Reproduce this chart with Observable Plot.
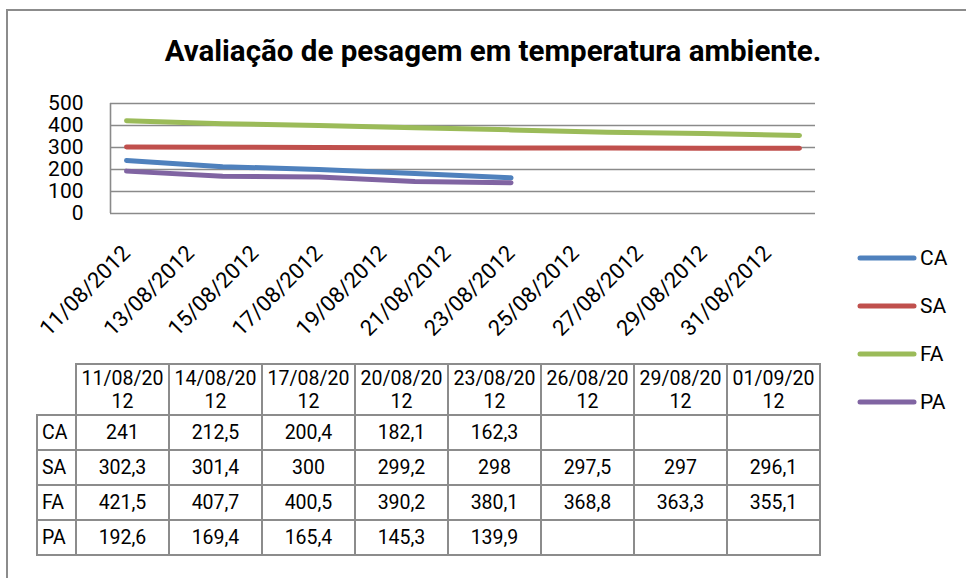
<!DOCTYPE html>
<html>
<head>
<meta charset="utf-8">
<script src="https://cdn.jsdelivr.net/npm/d3@7"></script>
<script src="https://cdn.jsdelivr.net/npm/@observablehq/plot@0.6"></script>
<style>
  html, body { margin: 0; padding: 0; background: #fff; overflow: hidden; width: 966px; height: 578px; }
  body { font-family: Roboto, "Open Sans", sans-serif; color: #000; position: relative; }
  #frame { position: absolute; left: 6px; top: 9px; width: 1100px; height: 700px; border-left: 2px solid #8c8c8c; border-top: 2px solid #8c8c8c; }
  #title { position: absolute; left: 0; width: 986px; top: 34px; text-align: center; font-weight: bold; font-size: 29.5px; line-height: 34px; }
  #chart { position: absolute; left: 0; top: 80px; }
  #legend { position: absolute; left: 856px; top: 234px; }
  .lg { display: flex; align-items: center; height: 48px; font-size: 21px; }
  .lg svg { margin-right: 2px; }
  #tbl { position: absolute; left: 36px; top: 363px; border-collapse: collapse; font-size: 19.5px; table-layout: fixed; }
  #tbl td { border: 2px solid #8c8c8c; text-align: center; padding: 0; height: 33px; line-height: 23px; width: 91px; }
  #tbl td.rh, #tbl td.blank { width: 33px; text-align: left; padding-left: 4px; }
  #tbl td.blank { border: none; }
  #tbl tr.hd td { height: 49px; }
</style>
</head>
<body>
<div id="frame"></div>
<div id="title">Avaliação de pesagem em temperatura ambiente.</div>
<div id="chart"></div>
<div id="legend"></div>
<table id="tbl"></table>
<script>
// ---- data ----
const dates = ["2012-08-11","2012-08-14","2012-08-17","2012-08-20","2012-08-23","2012-08-26","2012-08-29","2012-09-01"];
const seriesNames = ["CA","SA","FA","PA"];
const CA = [241, 212.5, 200.4, 182.1, 162.3, null, null, null];
const SA = [302.3, 301.4, 300, 299.2, 298, 297.5, 297, 296.1];
const FA = [421.5, 407.7, 400.5, 390.2, 380.1, 368.8, 363.3, 355.1];
const PA = [192.6, 169.4, 165.4, 145.3, 139.9, null, null, null];
const colors = ["#4F81BD","#C0504D","#9BBB59","#8064A2"];
const yTicks = [0, 100, 200, 300, 400, 500];
const xTicks = ["2012-08-11","2012-08-13","2012-08-15","2012-08-17","2012-08-19","2012-08-21","2012-08-23","2012-08-25","2012-08-27","2012-08-29","2012-08-31"];
const xDomain = ["2012-08-10T12:00:00Z","2012-09-01T12:00:00Z"];

const valuesBy = {CA, SA, FA, PA};
const parse = s => new Date(s.length === 10 ? s + "T00:00:00Z" : s);
const rows = [];
seriesNames.forEach(name => {
  valuesBy[name].forEach((v, i) => {
    if (v != null) rows.push({series: name, date: parse(dates[i]), value: v});
  });
});
const fmtDate = d3.utcFormat("%d/%m/%Y");

const chart = Plot.plot({
  width: 830,
  height: 290,
  marginLeft: 110,
  marginRight: 15,
  marginTop: 23,
  marginBottom: 157,
  style: {fontFamily: "Roboto, sans-serif", fontSize: "22px", color: "#000", background: "transparent"},
  x: {type: "utc", domain: xDomain.map(parse)},
  y: {domain: [0, 500]},
  color: {domain: seriesNames, range: colors},
  marks: [
    Plot.ruleY(yTicks, {stroke: "#8a8a8a", strokeWidth: 1.6}),
    Plot.ruleX([parse(xDomain[0])], {stroke: "#8a8a8a", strokeWidth: 1.6}),
    Plot.axisY({ticks: yTicks, tickSize: 0, tickPadding: 27, tickFormat: d => d, fontSize: 21, label: null}),
    Plot.axisX({ticks: xTicks.map(parse), tickSize: 0, tickPadding: 36, tickRotate: -45, textAnchor: "end", lineAnchor: "middle", tickFormat: fmtDate, fontSize: 22, label: null}),
    Plot.line(rows, {x: "date", y: "value", z: "series", stroke: "series", strokeWidth: 5, strokeLinecap: "round", strokeLinejoin: "round"})
  ]
});
document.getElementById("chart").appendChild(chart);

// legend
const lg = document.getElementById("legend");
seriesNames.forEach((name, i) => {
  const div = document.createElement("div");
  div.className = "lg";
  div.innerHTML = `<svg width="62" height="10"><line x1="4" y1="5" x2="58" y2="5" stroke="${colors[i]}" stroke-width="5" stroke-linecap="round"/></svg><span>${name}</span>`;
  lg.appendChild(div);
});

// data table
const tbl = document.getElementById("tbl");
let html = '<tr class="hd"><td class="blank"></td>';
dates.forEach(s => {
  const t = fmtDate(parse(s));
  html += `<td>${t.slice(0, 8)}<br>${t.slice(8)}</td>`;
});
html += "</tr>";
seriesNames.forEach(name => {
  html += `<tr><td class="rh">${name}</td>`;
  valuesBy[name].forEach(v => {
    html += `<td>${v == null ? "" : String(v).replace(".", ",")}</td>`;
  });
  html += "</tr>";
});
tbl.innerHTML = html;
</script>
</body>
</html>
